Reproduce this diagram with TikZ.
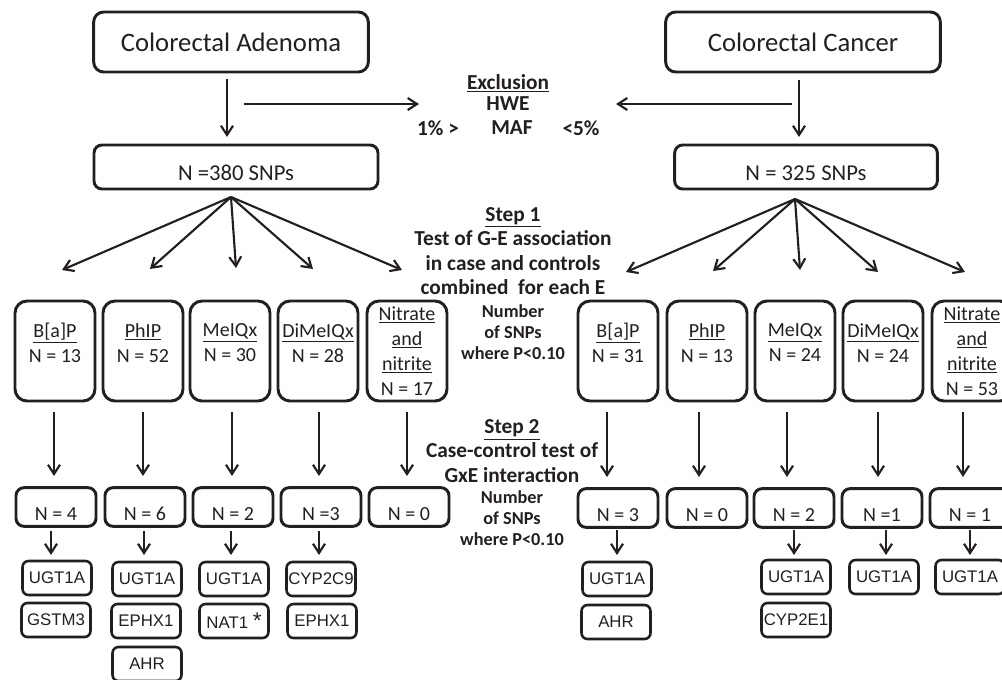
\documentclass[tikz,border=0pt]{standalone}
\usepackage{fontspec}
\setmainfont{Carlito}
\newfontfamily\genefont{Liberation Sans}
\usetikzlibrary{arrows.meta}
\definecolor{ink}{RGB}{35,31,32}
\tikzset{
    headbox/.style = {rectangle, rounded corners=7.5pt, line width=2.2pt, draw=ink, text=ink, minimum width=206pt, minimum height=45pt, font=\fontsize{20}{24}\selectfont},
    snpbox/.style = {rectangle, rounded corners=6pt, line width=2.2pt, draw=ink, text=ink, minimum height=33pt, text height=19.5pt, text depth=0pt, font=\fontsize{17}{20}\selectfont},
    expbox/.style = {rectangle, rounded corners=9pt, line width=2.2pt, draw=ink, text=ink, minimum width=60pt, minimum height=75pt, inner sep=1pt, align=center, font=\fontsize{15}{18.75}\selectfont},
    nbox/.style = {rectangle, rounded corners=6pt, line width=2.2pt, draw=ink, text=ink, minimum width=60pt, minimum height=29pt, inner sep=1pt, text height=19.5pt, text depth=0pt, font=\fontsize{15}{18}\selectfont},
    genebox/.style = {rectangle, rounded corners=4.5pt, line width=1.9pt, draw=ink, text=ink, minimum width=51.75pt, minimum height=25.5pt, inner sep=1pt, font=\genefont\fontsize{12.6}{14}\selectfont},
    steptext/.style = {align=center, text=ink, inner sep=0pt, font=\bfseries\fontsize{16}{18.2}\selectfont},
    numtext/.style = {align=center, text=ink, inner sep=0pt, font=\bfseries\fontsize{13.7}{15.75}\selectfont},
    edgen/.style = {-{Straight Barb[length=7pt,width=9pt]}, line width=1.6pt, draw=ink},
}

\begin{document}
\begin{tikzpicture}[x=0.75pt, y=-0.75pt]
  \useasboundingbox (0,0) rectangle (1002,679);
  \clip (0,0) rectangle (1002,679);

  % sources
  \node[headbox] at (231,42) (adenoma) {Colorectal Adenoma};
  \node[headbox] at (803,42) (cancer) {Colorectal Cancer};
  \node[snpbox, minimum width=213pt] at (236,167) (snpa) {N =380 SNPs};
  \node[snpbox, minimum width=197pt] at (806,167) (snpc) {N = 325 SNPs};

  % exclusion
  \node[steptext] at (508,83) (excl) {\underline{Exclusion}};
  \node[steptext] at (508,104) (hwe) {HWE};
  \node[steptext] at (512,128) (maf) {MAF};
  \node[steptext] at (438,128) (mafl) {1\% >};
  \node[steptext] at (581,128) (mafh) {<5\%};

  \coordinate (adt) at (227,79);  \coordinate (adb) at (227,137);
  \coordinate (cat) at (799,80);  \coordinate (cab) at (799,137);
  \coordinate (exl) at (244,104); \coordinate (exlr) at (419,104);
  \coordinate (exr) at (792,104); \coordinate (exrl) at (616,104);
  \draw[edgen] (adt) -- (adb);
  \draw[edgen] (cat) -- (cab);
  \draw[edgen] (exl) -- (exlr);
  \draw[edgen] (exr) -- (exrl);

  % step 1
  \node[steptext] at (513,251) (step1) {\underline{Step 1}\\Test of G-E association\\in case and controls\\combined\ \ for each E};
  \node[numtext] at (513,332) (num1) {Number\\of SNPs\\where P<0.10};

  \coordinate (fanl) at (231,197);
  \coordinate (fanr) at (795,199);
  \foreach \x/\y [count=\i] in {62/270, 150/269, 236/268, 313/269, 402/270}
    {\coordinate (fl\i) at (\x,\y); \draw[edgen] (fanl) -- (fl\i);}
  \foreach \x/\y [count=\i] in {626/272, 713/271, 800/270, 878/272, 965/272}
    {\coordinate (fr\i) at (\x,\y); \draw[edgen] (fanr) -- (fr\i);}

  % exposures
  \node[expbox, text depth=12.5pt] at (55,351) (bapa) {\underline{B[a]P}\\N = 13};
  \node[expbox, text depth=12.5pt] at (143,351) (phipa) {\underline{PhIP}\\N = 52};
  \node[expbox, text depth=12.5pt] at (230,351) (meiqa) {\underline{MeIQx}\\N = 30};
  \node[expbox, text depth=12.5pt] at (318,351) (dimea) {\underline{DiMeIQx}\\N = 28};
  \node[expbox] at (407,351) (nitra) {\underline{Nitrate}\\\underline{and}\\\underline{nitrite}\\N = 17};
  \node[expbox, text depth=12.5pt] at (618,351) (bapc) {\underline{B[a]P}\\N = 31};
  \node[expbox, text depth=12.5pt] at (707,351) (phipc) {\underline{PhIP}\\N = 13};
  \node[expbox, text depth=12.5pt] at (795,351) (meiqc) {\underline{MeIQx}\\N = 24};
  \node[expbox, text depth=12.5pt] at (883,351) (dimec) {\underline{DiMeIQx}\\N = 24};
  \node[expbox] at (972,351) (nitrc) {\underline{Nitrate}\\\underline{and}\\\underline{nitrite}\\N = 53};

  % step 2
  \node[steptext] at (512,451) (step2) {\underline{Step 2}\\Case-control test of\\GxE interaction};
  \node[numtext] at (512,518) (num2) {Number\\of SNPs\\where P<0.10};

  \foreach \x [count=\i] in {54, 143, 232, 319, 407}
    {\coordinate (dla\i) at (\x,412); \coordinate (dlb\i) at (\x,476); \draw[edgen] (dla\i) -- (dlb\i);}
  \foreach \x [count=\i] in {607, 699, 787, 878, 963}
    {\coordinate (dra\i) at (\x,412); \coordinate (drb\i) at (\x,477); \draw[edgen] (dra\i) -- (drb\i);}

  % interactions
  \node[nbox] at (56,507) (nbapa) {N = 4};
  \node[nbox] at (145,507) (nphipa) {N = 6};
  \node[nbox] at (233,507) (nmeiqa) {N = 2};
  \node[nbox] at (321,507) (ndimea) {N =3};
  \node[nbox] at (409,507) (nnitra) {N = 0};
  \node[nbox] at (618,508) (nbapc) {N = 3};
  \node[nbox] at (707,508) (nphipc) {N = 0};
  \node[nbox] at (794,508) (nmeiqc) {N = 2};
  \node[nbox] at (882,508) (ndimec) {N =1};
  \node[nbox] at (970,508) (nnitrc) {N = 1};

  \foreach \x [count=\i] in {51, 144, 231, 319}
    {\coordinate (gla\i) at (\x,531); \coordinate (glb\i) at (\x,555); \draw[edgen] (gla\i) -- (glb\i);}
  \foreach \x [count=\i] in {617, 794, 886, 970}
    {\coordinate (gra\i) at (\x,530); \coordinate (grb\i) at (\x,555); \draw[edgen] (gra\i) -- (grb\i);}

  % genes
  \node[genebox] at (57,578) (ga1) {UGT1A};
  \node[genebox] at (56,620) (ga2) {GSTM3};
  \node[genebox] at (147,579) (gb1) {UGT1A};
  \node[genebox] at (146,621) (gb2) {EPHX1};
  \node[genebox] at (147,664) (gb3) {AHR};
  \node[genebox] at (234,579) (gc1) {UGT1A};
  \node[genebox] at (234,621) (gc2) {NAT1 {\fontsize{17}{17}\selectfont *}};
  \node[genebox] at (321,579) (gd1) {CYP2C9};
  \node[genebox] at (322,621) (gd2) {EPHX1};
  \node[genebox] at (617,579) (ge1) {UGT1A};
  \node[genebox] at (616,622) (ge2) {AHR};
  \node[genebox] at (796,577) (gf1) {UGT1A};
  \node[genebox] at (796,620) (gf2) {CYP2E1};
  \node[genebox] at (884,577) (gg1) {UGT1A};
  \node[genebox] at (970,577) (gh1) {UGT1A};
\end{tikzpicture}
\end{document}
